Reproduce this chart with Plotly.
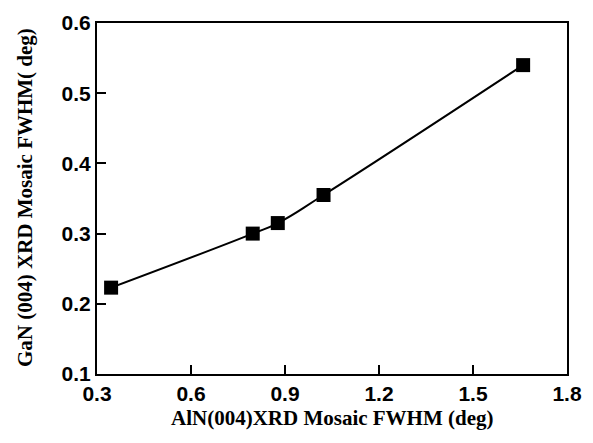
import plotly.graph_objects as go

aln_fwhm = [0.345, 0.797, 0.877, 1.023, 1.66]
gan_fwhm = [0.223, 0.300, 0.315, 0.355, 0.540]
x_ticks = [0.3, 0.6, 0.9, 1.2, 1.5, 1.8]
y_ticks = [0.1, 0.2, 0.3, 0.4, 0.5, 0.6]
x_title = "AlN(004)XRD Mosaic FWHM (deg)"
y_title = "GaN (004) XRD Mosaic FWHM( deg)"

fig = go.Figure()
fig.add_trace(go.Scatter(
    x=aln_fwhm, y=gan_fwhm, mode="lines+markers",
    line=dict(color="black", width=2, shape="spline", smoothing=1.3),
    marker=dict(symbol="square", size=14, color="black"),
    showlegend=False, cliponaxis=False,
))

tickfont = dict(family="Arial, Liberation Sans", size=21, color="black")
titlefont = dict(family="Times New Roman, Liberation Serif", size=21, color="black")

W, H = 593, 443
L, R, T, B = 97, 26, 23, 69
pw, ph = W - L - R, H - T - B

fig.update_layout(
    width=W, height=H,
    margin=dict(l=L, r=R, t=T, b=B),
    plot_bgcolor="white", paper_bgcolor="white",
    xaxis=dict(
        range=[0.3, 1.8], tickvals=x_ticks, ticktext=[f"<b>{v:.1f}</b>" for v in x_ticks],
        ticks="inside", ticklen=9, tickwidth=2, tickcolor="black",
        showline=True, linewidth=2, linecolor="black", mirror=True,
        showgrid=False, zeroline=False, tickfont=tickfont, automargin=False,
    ),
    yaxis=dict(
        range=[0.1, 0.6], tickvals=y_ticks, ticktext=[f"<b>{v:.1f}</b>" for v in y_ticks],
        ticks="inside", ticklen=9, tickwidth=2, tickcolor="black",
        showline=True, linewidth=2, linecolor="black", mirror=True,
        showgrid=False, zeroline=False, tickfont=tickfont, automargin=False,
    ),
    annotations=[
        dict(text=f"<b>{x_title}</b>", xref="paper", yref="paper",
             x=(332 - L) / pw, y=-(418 - (T + ph)) / ph, xanchor="center", yanchor="middle",
             showarrow=False, font=titlefont),
        dict(text=f"<b>{y_title}</b>", xref="paper", yref="paper", textangle=-90,
             x=(25 - L) / pw, y=1 - (198 - T) / ph, xanchor="center", yanchor="middle",
             showarrow=False, font=titlefont),
    ],
)

fig.write_html("out.html", config={"displayModeBar": False},
               post_script="document.body.style.margin='0';document.body.style.overflow='hidden';")
